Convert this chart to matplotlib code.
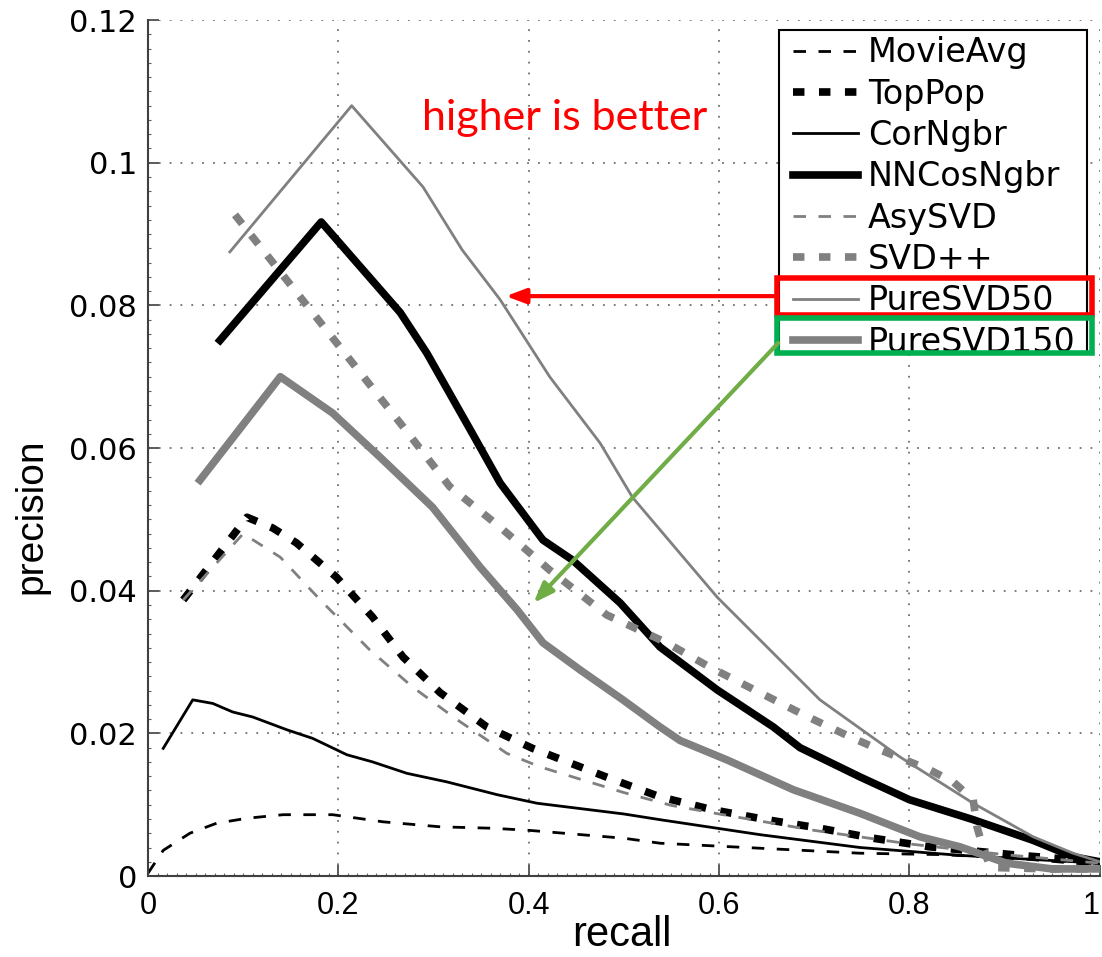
import numpy as np
import matplotlib
matplotlib.use('Agg')
import matplotlib.pyplot as plt
from matplotlib.patches import Rectangle
from matplotlib.ticker import MultipleLocator

# recall / precision curves
movieavg_recall = [0.0, 0.016, 0.044, 0.072, 0.104, 0.142, 0.194, 0.247, 0.307, 0.362, 0.401, 0.5, 0.538, 0.643, 0.748, 0.835, 0.92, 1.0]
movieavg_prec = [0.0004, 0.0036, 0.0060, 0.0074, 0.0081, 0.0086, 0.0086, 0.0076, 0.0069, 0.0067, 0.0064, 0.0053, 0.0046, 0.0039, 0.0032, 0.0030, 0.0024, 0.0015]

toppop_recall = [0.037, 0.104, 0.131, 0.156, 0.198, 0.236, 0.268, 0.307, 0.356, 0.404, 0.485, 0.538, 0.593, 0.650, 0.706, 0.762, 0.821, 0.916, 1.0]
toppop_prec = [0.0387, 0.0503, 0.0488, 0.0467, 0.0419, 0.0363, 0.0307, 0.0257, 0.0209, 0.0179, 0.0137, 0.0111, 0.0093, 0.0079, 0.0067, 0.0053, 0.0041, 0.0029, 0.0020]

corngbr_recall = [0.016, 0.047, 0.068, 0.089, 0.110, 0.146, 0.173, 0.209, 0.236, 0.272, 0.314, 0.367, 0.409, 0.5, 0.538, 0.643, 0.748, 0.853, 1.0]
corngbr_prec = [0.0179, 0.0247, 0.0242, 0.0230, 0.0223, 0.0205, 0.0193, 0.0170, 0.0160, 0.0144, 0.0132, 0.0114, 0.0102, 0.0087, 0.0079, 0.0058, 0.0040, 0.0029, 0.0018]

nncos_recall = [0.0756, 0.182, 0.265, 0.293, 0.341, 0.370, 0.415, 0.446, 0.496, 0.538, 0.598, 0.657, 0.685, 0.748, 0.800, 0.867, 0.930, 0.972, 1.0]
nncos_prec = [0.0751, 0.0917, 0.0790, 0.0733, 0.0620, 0.0551, 0.0471, 0.0443, 0.0383, 0.0321, 0.0261, 0.0209, 0.0180, 0.0139, 0.0107, 0.0079, 0.0050, 0.0027, 0.0020]

asysvd_recall = [0.037, 0.100, 0.139, 0.181, 0.233, 0.278, 0.325, 0.377, 0.412, 0.5, 0.55, 0.6, 0.7, 0.8, 0.9, 1.0]
asysvd_prec = [0.0387, 0.0480, 0.0447, 0.0387, 0.0317, 0.0265, 0.0219, 0.0172, 0.0153, 0.0117, 0.0099, 0.0087, 0.0064, 0.0045, 0.0030, 0.0018]

svdpp_recall = [0.0914, 0.265, 0.317, 0.370, 0.422, 0.482, 0.545, 0.590, 0.643, 0.692, 0.741, 0.769, 0.821, 0.846, 0.867, 0.871, 0.877, 0.885, 0.95, 1.0]
svdpp_prec = [0.0927, 0.0635, 0.0546, 0.0489, 0.0429, 0.0366, 0.0327, 0.0293, 0.0257, 0.0224, 0.0193, 0.0177, 0.0149, 0.0132, 0.0107, 0.0069, 0.0041, 0.0012, 0.0010, 0.0010]

puresvd50_recall = [0.086, 0.214, 0.289, 0.330, 0.370, 0.422, 0.475, 0.509, 0.556, 0.598, 0.643, 0.706, 0.790, 0.867, 0.930, 0.972, 1.0]
puresvd50_prec = [0.0875, 0.1080, 0.0966, 0.0878, 0.0808, 0.0700, 0.0607, 0.0531, 0.0457, 0.0391, 0.0331, 0.0247, 0.0167, 0.0102, 0.0055, 0.0032, 0.0020]

puresvd150_recall = [0.0546, 0.139, 0.194, 0.244, 0.299, 0.349, 0.388, 0.415, 0.454, 0.499, 0.538, 0.559, 0.608, 0.678, 0.748, 0.811, 0.853, 0.902, 0.95, 1.0]
puresvd150_prec = [0.0555, 0.0700, 0.0649, 0.0587, 0.0517, 0.0433, 0.0373, 0.0327, 0.0289, 0.0247, 0.0209, 0.0190, 0.0163, 0.0121, 0.0088, 0.0055, 0.0041, 0.0018, 0.0010, 0.0010]

x_ticks = [0, 0.2, 0.4, 0.6, 0.8, 1]
x_ticklabels = ['0', '0.2', '0.4', '0.6', '0.8', '1']
y_ticks = [0, 0.02, 0.04, 0.06, 0.08, 0.1, 0.12]
y_ticklabels = ['0', '0.02', '0.04', '0.06', '0.08', '0.1', '0.12']

GRAY = '#808080'
NARROW = 'Liberation Sans'

fig = plt.figure(figsize=(11.02, 9.57), dpi=100)
ax = fig.add_axes([0.1343, 0.0846, 0.8637, 0.8944])

ax.plot(movieavg_recall, movieavg_prec, color='black', lw=2, dashes=(4.5, 4.5), label='MovieAvg')
ax.plot(toppop_recall, toppop_prec, color='black', lw=5.5, dashes=(1.5, 1.9), label='TopPop')
ax.plot(corngbr_recall, corngbr_prec, color='black', lw=2, label='CorNgbr')
ax.plot(nncos_recall, nncos_prec, color='black', lw=5.5, label='NNCosNgbr')
ax.plot(asysvd_recall, asysvd_prec, color=GRAY, lw=2, dashes=(4.5, 4.5), label='AsySVD')
ax.plot(svdpp_recall, svdpp_prec, color=GRAY, lw=5.5, dashes=(1.5, 1.9), label='SVD++')
ax.plot(puresvd50_recall, puresvd50_prec, color=GRAY, lw=2, label='PureSVD50')
ax.plot(puresvd150_recall, puresvd150_prec, color=GRAY, lw=5.5, label='PureSVD150')

ax.set_xlim(0, 1)
ax.set_ylim(0, 0.12)
ax.xaxis.set_minor_locator(MultipleLocator(0.01))
ax.yaxis.set_minor_locator(MultipleLocator(0.002))
ax.tick_params(which='major', direction='in', length=8, width=1.2, color='#404040')
ax.tick_params(which='minor', direction='in', length=2.5, width=0.8, color='#606060')
ax.tick_params(axis='x', which='major', pad=11, labelsize=22, labelfontfamily=NARROW)
ax.tick_params(axis='y', which='major', pad=8, labelsize=22)
ax.set_xticks(x_ticks)
ax.set_xticklabels(x_ticklabels)
ax.set_yticks(y_ticks)
ax.set_yticklabels(y_ticklabels)
ax.get_xticklabels()[-1].set_ha('right')
ax.grid(True, which='major', linestyle=(0, (1, 5)), color='#707070', lw=1.3)
ax.set_axisbelow(True)
for s in ['top', 'right']:
    ax.spines[s].set_visible(False)
for s in ['left', 'bottom']:
    ax.spines[s].set_color('#404040')
    ax.spines[s].set_linewidth(1.5)

ax.set_xlabel('recall', family=NARROW, fontsize=30)
ax.xaxis.set_label_coords(0.498, -0.045)
ax.set_ylabel('precision', family=NARROW, fontsize=28)
ax.yaxis.set_label_coords(-0.103, 0.42)

# legend without its own frame, box drawn separately (text sits close to the bottom edge)
leg = ax.legend(loc='upper left', bbox_to_anchor=(0.6775, 0.981), borderaxespad=0,
                fontsize=24, handlelength=1.95, handletextpad=0.3, labelspacing=0.25,
                borderpad=0, frameon=False)
ax.add_patch(Rectangle((0.663, 0.0733), 0.324, 0.0453, facecolor='white', edgecolor='black',
                       lw=1.5, zorder=4.5, clip_on=False))

# annotations
ax.text(0.438, 0.1046, 'higher is better', color='red', fontsize=31, family=['Lato', 'DejaVu Sans'],
        ha='center', va='baseline')
ax.add_patch(Rectangle((0.661, 0.0787), 0.331, 0.0051, fill=False, edgecolor='red', lw=4,
                       zorder=10, clip_on=False))
ax.add_patch(Rectangle((0.661, 0.0733), 0.331, 0.0049, fill=False, edgecolor='#00B050', lw=4,
                       zorder=10, clip_on=False))
ax.annotate('', xy=(0.373, 0.0813), xytext=(0.661, 0.0813),
            arrowprops=dict(arrowstyle='-|>,head_length=1.2,head_width=0.45', color='red', lw=3),
            zorder=10)
ax.annotate('', xy=(0.403, 0.0380), xytext=(0.664, 0.0750),
            arrowprops=dict(arrowstyle='-|>,head_length=1.2,head_width=0.45', color='#70AD47', lw=3),
            zorder=10)

plt.savefig('out.png', dpi=100)
plt.close()
